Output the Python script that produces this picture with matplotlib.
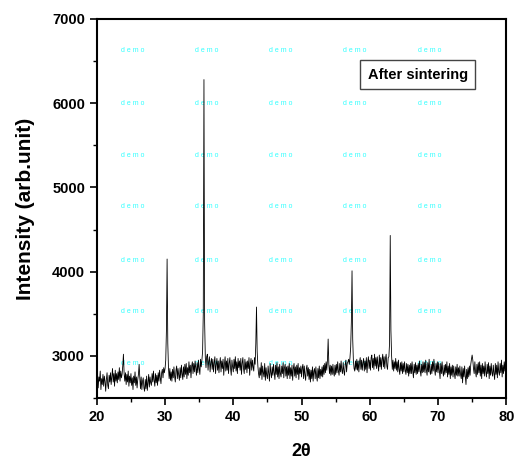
import numpy as np
import matplotlib
matplotlib.use("Agg")
import matplotlib.pyplot as plt
from matplotlib.ticker import MultipleLocator

plt.rcParams['font.family'] = ['Liberation Sans', 'DejaVu Sans']

# 2theta from 20 to 80 in 0.1 deg steps, one row per degree
two_theta = np.round(np.arange(20.0, 80.05, 0.1), 1)
intensity = [
    2680, 2790, 2620, 2750, 2700, 2820, 2600, 2730, 2660, 2780,  # 20
    2640, 2760, 2700, 2580, 2720, 2800, 2650, 2610, 2770, 2690,  # 21
    2800, 2660, 2760, 2850, 2690, 2790, 2640, 2830, 2700, 2790,  # 22
    2680, 2810, 2720, 2860, 2700, 2820, 2740, 2780, 2880, 3020,  # 23
    2790, 2700, 2800, 2660, 2780, 2690, 2820, 2640, 2760, 2680,  # 24
    2790, 2650, 2740, 2600, 2760, 2680, 2810, 2650, 2750, 2620,  # 25
    2720, 2780, 2900, 2740, 2610, 2750, 2600, 2700, 2740, 2620,  # 26
    2580, 2720, 2610, 2760, 2590, 2690, 2780, 2630, 2750, 2680,  # 27
    2650, 2790, 2690, 2820, 2710, 2640, 2790, 2680, 2770, 2650,  # 28
    2800, 2700, 2830, 2740, 2670, 2800, 2840, 2740, 2860, 2800,  # 29
    2850, 2950, 3300, 4150, 3150, 2860, 2730, 2850, 2710, 2810,  # 30
    2700, 2840, 2740, 2870, 2760, 2690, 2830, 2880, 2730, 2850,  # 31
    2770, 2710, 2860, 2740, 2890, 2790, 2720, 2870, 2750, 2900,  # 32
    2780, 2910, 2730, 2860, 2770, 2930, 2800, 2890, 2740, 2880,  # 33
    2930, 2790, 2910, 2810, 2940, 2850, 2770, 2920, 2800, 2950,  # 34
    2850, 2780, 2960, 2870, 2950, 3050, 3500, 6280, 3400, 2980,  # 35
    2860, 2990, 3020, 2830, 2940, 2990, 2810, 2920, 2970, 2840,  # 36
    2960, 2810, 2920, 2990, 2790, 2900, 2970, 2830, 2940, 2800,  # 37
    2910, 2980, 2810, 2940, 2850, 2960, 2770, 2900, 2990, 2820,  # 38
    2940, 2830, 2970, 2790, 2910, 2980, 2850, 2770, 2950, 2870,  # 39
    2810, 2960, 2850, 2990, 2820, 2930, 2790, 2970, 2860, 2940,  # 40
    2830, 2970, 2780, 2910, 2980, 2850, 2790, 2960, 2840, 2930,  # 41
    2800, 2940, 2850, 2980, 2770, 2910, 2970, 2830, 2950, 2870,  # 42
    2820, 2980, 2900, 3150, 3580, 3050, 2880, 2790, 2740, 2860,  # 43
    2770, 2920, 2720, 2880, 2800, 2750, 2910, 2710, 2860, 2770,  # 44
    2730, 2880, 2790, 2700, 2910, 2800, 2740, 2870, 2770, 2900,  # 45
    2800, 2720, 2890, 2780, 2920, 2750, 2870, 2730, 2900, 2790,  # 46
    2750, 2880, 2790, 2920, 2740, 2860, 2900, 2760, 2870, 2730,  # 47
    2880, 2770, 2910, 2730, 2860, 2760, 2890, 2710, 2850, 2910,  # 48
    2760, 2870, 2740, 2890, 2780, 2910, 2720, 2860, 2790, 2880,  # 49
    2750, 2860, 2900, 2730, 2880, 2780, 2710, 2850, 2890, 2760,  # 50
    2860, 2720, 2840, 2690, 2830, 2730, 2870, 2700, 2820, 2850,  # 51
    2730, 2870, 2760, 2700, 2850, 2740, 2880, 2730, 2840, 2760,  # 52
    2870, 2750, 2890, 2780, 2910, 2800, 2930, 2830, 2950, 3200,  # 53
    2900, 2790, 2890, 2770, 2880, 2780, 2900, 2800, 2760, 2890,  # 54
    2780, 2900, 2800, 2930, 2820, 2770, 2910, 2810, 2940, 2830,  # 55
    2790, 2920, 2820, 2770, 2900, 2950, 2810, 2910, 2930, 2960,  # 56
    2900, 2980, 3100, 3400, 4010, 3200, 2940, 2850, 2820, 2940,  # 57
    2840, 2960, 2830, 2940, 2810, 2930, 2980, 2840, 2950, 2830,  # 58
    2920, 2970, 2820, 2940, 2840, 2980, 2800, 2930, 2990, 2850,  # 59
    2950, 2830, 2980, 3010, 2860, 2970, 2840, 3020, 2880, 2980,  # 60
    2850, 2990, 2890, 2820, 3010, 2870, 2980, 2840, 2960, 3020,  # 61
    2870, 2990, 2850, 2970, 3020, 2880, 2840, 2980, 2990, 3150,  # 62
    4430, 3300, 3000, 2840, 2950, 2820, 2930, 2850, 2970, 2830,  # 63
    2930, 2810, 2950, 2840, 2780, 2920, 2820, 2930, 2790, 2910,  # 64
    2810, 2930, 2830, 2780, 2910, 2800, 2900, 2760, 2890, 2790,  # 65
    2910, 2790, 2930, 2820, 2740, 2900, 2800, 2920, 2780, 2890,  # 66
    2790, 2910, 2810, 2940, 2820, 2760, 2900, 2800, 2930, 2810,  # 67
    2920, 2800, 2950, 2830, 2770, 2920, 2810, 2960, 2820, 2780,  # 68
    2900, 2790, 2930, 2820, 2960, 2840, 2770, 2910, 2810, 2930,  # 69
    2800, 2920, 2820, 2730, 2910, 2790, 2930, 2810, 2760, 2890,  # 70
    2780, 2900, 2800, 2930, 2750, 2880, 2780, 2910, 2730, 2870,  # 71
    2770, 2890, 2750, 2880, 2790, 2730, 2870, 2770, 2900, 2760,  # 72
    2860, 2760, 2880, 2780, 2730, 2870, 2680, 2850, 2750, 2880,  # 73
    2760, 2660, 2840, 2730, 2860, 2750, 2880, 2770, 2900, 2960,  # 74
    3010, 2950, 2850, 2790, 2930, 2810, 2750, 2900, 2780, 2920,  # 75
    2800, 2930, 2760, 2890, 2730, 2910, 2790, 2880, 2760, 2930,  # 76
    2810, 2750, 2900, 2790, 2920, 2730, 2880, 2770, 2910, 2800,  # 77
    2760, 2890, 2790, 2720, 2910, 2780, 2890, 2740, 2930, 2810,  # 78
    2770, 2910, 2800, 2950, 2750, 2890, 2790, 2930, 2820, 2970,  # 79
    2890,                                                        # 80
]

x_ticks = [20, 30, 40, 50, 60, 70, 80]
y_ticks = [3000, 4000, 5000, 6000, 7000]

fig = plt.figure(figsize=(5.15, 4.62), dpi=100)
ax = fig.add_axes([0.188, 0.1385, 0.795, 0.8205])

ax.plot(two_theta, intensity, color='black', linewidth=0.6)

ax.set_xlim(20, 80)
ax.set_ylim(2500, 7000)
ax.set_xticks(x_ticks)
ax.set_yticks(y_ticks)
ax.xaxis.set_minor_locator(MultipleLocator(5))
ax.yaxis.set_minor_locator(MultipleLocator(500))
ax.tick_params(which='major', direction='out', length=5, width=1.2,
               labelsize=10.5, top=False, right=False)
ax.tick_params(which='minor', direction='out', length=3, width=1.0,
               top=False, right=False)
for lbl in ax.get_xticklabels() + ax.get_yticklabels():
    lbl.set_fontweight('bold')
for sp in ax.spines.values():
    sp.set_linewidth(1.5)

ax.set_xlabel('2θ', fontsize=13, fontweight='bold', labelpad=14)
ax.set_ylabel('Intensity (arb.unit)', fontsize=15, fontweight='bold', labelpad=12)

# watermark grid
for fx in [0.088, 0.269, 0.450, 0.631, 0.812]:
    for fy in [0.918, 0.778, 0.641, 0.504, 0.364, 0.227, 0.090]:
        ax.text(fx, fy, 'd e m o', transform=ax.transAxes, fontsize=5,
                color='#33ffff', ha='center', va='center', zorder=0)

ax.text(0.784, 0.853, 'After sintering', transform=ax.transAxes,
        fontsize=10.5, fontweight='bold', ha='center', va='center',
        bbox=dict(boxstyle='square,pad=0.5', facecolor='white',
                  edgecolor='#444444', linewidth=1.0))

fig.savefig('out.png', dpi=100)
